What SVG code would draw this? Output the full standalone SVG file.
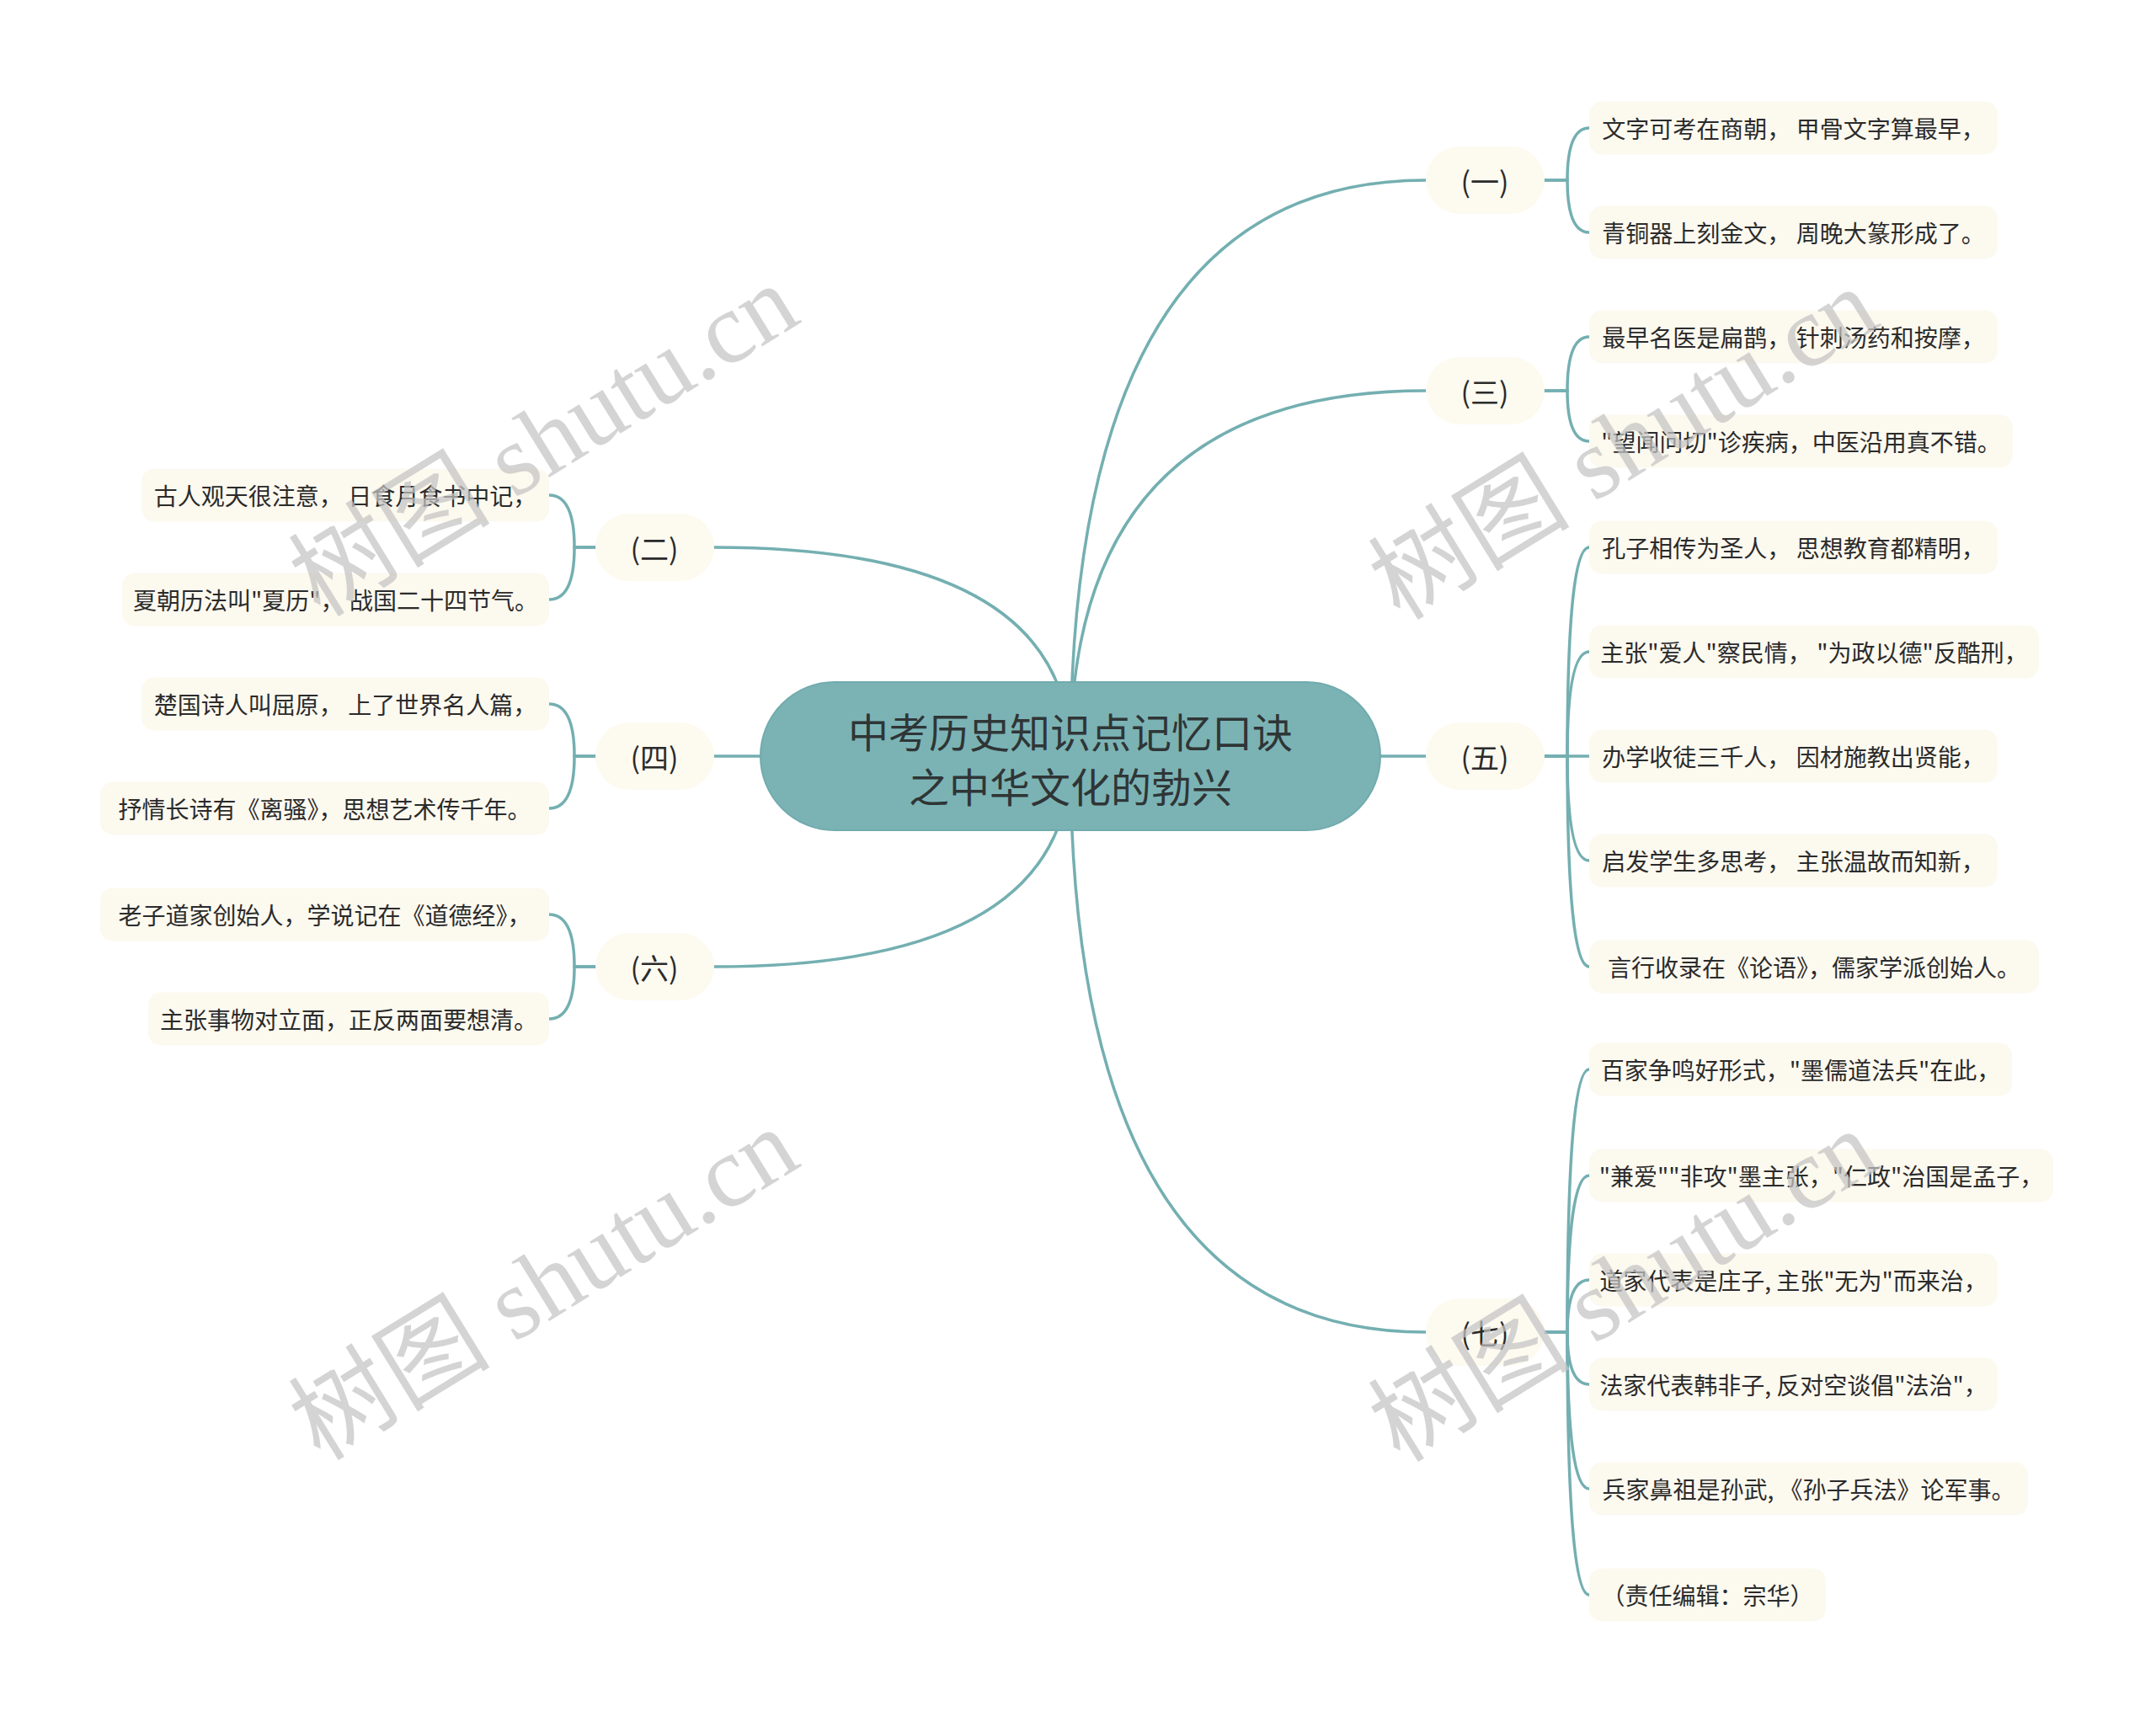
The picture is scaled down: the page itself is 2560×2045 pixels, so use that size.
<svg xmlns="http://www.w3.org/2000/svg" width="2560" height="2045" viewBox="0 0 2560 2045">
<style>
.bg{fill:#ffffff}
.conn{fill:none;stroke:#74afb1;stroke-width:3.5;stroke-linecap:round}
.root{fill:#7bb3b5;stroke:#71abad;stroke-width:2}
.roottxt{font-family:"Noto Sans CJK SC","Noto Sans",sans-serif;font-size:48px;fill:#2f3535;text-anchor:middle;dominant-baseline:central}
.l1{fill:#fdfaf0}
.l1txt{font-family:"Noto Sans CJK SC","Noto Sans",sans-serif;font-size:34px;fill:#2b2b2b;text-anchor:middle;dominant-baseline:central}
.leaf{fill:#fcf9ef}
.lt{font-family:"Noto Sans CJK SC","Noto Sans",sans-serif;font-size:28px;fill:#2b2b2b;text-anchor:middle;dominant-baseline:central;white-space:pre}
.wm{font-family:"Liberation Serif","Noto Sans CJK SC",serif;font-size:120px;fill:#c4c4c4;opacity:0.72;text-anchor:middle}
</style>
<rect class="bg" x="0" y="0" width="2560" height="2045"/>

<g id="connectors">
  <path class="conn" d="M1271 898 Q1271 214 1693 214"/>
  <path class="conn" d="M1271 898 Q1271 464 1693 464"/>
  <path class="conn" d="M1600 898 H1693"/>
  <path class="conn" d="M1271 898 Q1271 1582 1693 1582"/>
  <path class="conn" d="M1271 898 Q1271 650 848 650"/>
  <path class="conn" d="M940 898 H848"/>
  <path class="conn" d="M1271 898 Q1271 1148 848 1148"/>
  <path class="conn" d="M1834 214 H1861 Q1861 152 1887 152"/>
  <path class="conn" d="M1834 214 H1861 Q1861 276 1887 276"/>
  <path class="conn" d="M1834 464 H1861 Q1861 400 1887 400"/>
  <path class="conn" d="M1834 464 H1861 Q1861 524 1887 524"/>
  <path class="conn" d="M1834 898 H1861 Q1861 650 1887 650"/>
  <path class="conn" d="M1834 898 H1861 Q1861 774 1887 774"/>
  <path class="conn" d="M1834 898 H1887"/>
  <path class="conn" d="M1834 898 H1861 Q1861 1022 1887 1022"/>
  <path class="conn" d="M1834 898 H1861 Q1861 1148 1887 1148"/>
  <path class="conn" d="M1834 1582 H1861 Q1861 1270 1887 1270"/>
  <path class="conn" d="M1834 1582 H1861 Q1861 1396 1887 1396"/>
  <path class="conn" d="M1834 1582 H1861 Q1861 1520 1887 1520"/>
  <path class="conn" d="M1834 1582 H1861 Q1861 1644 1887 1644"/>
  <path class="conn" d="M1834 1582 H1861 Q1861 1768 1887 1768"/>
  <path class="conn" d="M1834 1582 H1861 Q1861 1894 1887 1894"/>
  <path class="conn" d="M707 650 H682 Q682 588 652 588"/>
  <path class="conn" d="M707 650 H682 Q682 712 652 712"/>
  <path class="conn" d="M707 898 H682 Q682 836 652 836"/>
  <path class="conn" d="M707 898 H682 Q682 960 652 960"/>
  <path class="conn" d="M707 1148 H682 Q682 1086 652 1086"/>
  <path class="conn" d="M707 1148 H682 Q682 1210 652 1210"/>
</g>

<g id="root">
  <rect class="root" x="903" y="810" width="736" height="176" rx="88"/>
  <text class="roottxt" x="1271" y="867">中考历史知识点记忆口诀</text>
  <text class="roottxt" x="1271" y="932">之中华文化的勃兴</text>
</g>

<g id="n1"><rect class="l1" x="1693" y="174" width="141" height="80" rx="40"/><text class="l1txt" x="1763" y="214">(一)</text></g>
<g id="n3"><rect class="l1" x="1693" y="424" width="141" height="80" rx="40"/><text class="l1txt" x="1763" y="464">(三)</text></g>
<g id="n5"><rect class="l1" x="1693" y="858" width="141" height="80" rx="40"/><text class="l1txt" x="1763" y="898">(五)</text></g>
<g id="n7"><rect class="l1" x="1693" y="1542" width="141" height="80" rx="40"/><text class="l1txt" x="1763" y="1582">(七)</text></g>
<g id="n2"><rect class="l1" x="707" y="610" width="141" height="80" rx="40"/><text class="l1txt" x="777" y="650">(二)</text></g>
<g id="n4"><rect class="l1" x="707" y="858" width="141" height="80" rx="40"/><text class="l1txt" x="777" y="898">(四)</text></g>
<g id="n6"><rect class="l1" x="707" y="1108" width="141" height="80" rx="40"/><text class="l1txt" x="777" y="1148">(六)</text></g>

<g id="n1a"><rect class="leaf" x="1887" y="120.5" width="485" height="63" rx="15"/><text class="lt" x="2129.5" y="152">文字可考在商朝， 甲骨文字算最早，</text></g>
<g id="n1b"><rect class="leaf" x="1887" y="244.5" width="485" height="63" rx="15"/><text class="lt" x="2129.5" y="276">青铜器上刻金文， 周晚大篆形成了。</text></g>
<g id="n3a"><rect class="leaf" x="1887" y="368.5" width="485" height="63" rx="15"/><text class="lt" x="2129.5" y="400">最早名医是扁鹊， 针刺汤药和按摩，</text></g>
<g id="n3b"><rect class="leaf" x="1887" y="492.5" width="503" height="63" rx="15"/><text class="lt" x="2138.5" y="524">"望闻问切"诊疾病，中医沿用真不错。</text></g>
<g id="n5a"><rect class="leaf" x="1887" y="618.5" width="485" height="63" rx="15"/><text class="lt" x="2129.5" y="650">孔子相传为圣人， 思想教育都精明，</text></g>
<g id="n5b"><rect class="leaf" x="1887" y="742.5" width="534" height="63" rx="15"/><text class="lt" x="2154" y="774">主张"爱人"察民情， "为政以德"反酷刑，</text></g>
<g id="n5c"><rect class="leaf" x="1887" y="866.5" width="485" height="63" rx="15"/><text class="lt" x="2129.5" y="898">办学收徒三千人， 因材施教出贤能，</text></g>
<g id="n5d"><rect class="leaf" x="1887" y="990.5" width="485" height="63" rx="15"/><text class="lt" x="2129.5" y="1022">启发学生多思考， 主张温故而知新，</text></g>
<g id="n5e"><rect class="leaf" x="1887" y="1116.5" width="534" height="63" rx="15"/><text class="lt" x="2154" y="1148">言行收录在《论语》，儒家学派创始人。</text></g>
<g id="n7a"><rect class="leaf" x="1887" y="1238.5" width="502" height="63" rx="15"/><text class="lt" x="2138" y="1270">百家争鸣好形式，"墨儒道法兵"在此，</text></g>
<g id="n7b"><rect class="leaf" x="1887" y="1364.5" width="551" height="63" rx="15"/><text class="lt" x="2162.5" y="1396">"兼爱""非攻"墨主张，"仁政"治国是孟子，</text></g>
<g id="n7c"><rect class="leaf" x="1887" y="1488.5" width="485" height="63" rx="15"/><text class="lt" x="2129.5" y="1520">道家代表是庄子, 主张"无为"而来治，</text></g>
<g id="n7d"><rect class="leaf" x="1887" y="1612.5" width="485" height="63" rx="15"/><text class="lt" x="2129.5" y="1644">法家代表韩非子, 反对空谈倡"法治"，</text></g>
<g id="n7e"><rect class="leaf" x="1887" y="1736.5" width="521" height="63" rx="15"/><text class="lt" x="2147.5" y="1768">兵家鼻祖是孙武, 《孙子兵法》论军事。</text></g>
<g id="n7f"><rect class="leaf" x="1887" y="1862.5" width="281" height="63" rx="15"/><text class="lt" x="2027.5" y="1894">（责任编辑：宗华）</text></g>
<g id="n2a"><rect class="leaf" x="168" y="556.5" width="484" height="63" rx="15"/><text class="lt" x="410" y="588">古人观天很注意， 日食月食书中记，</text></g>
<g id="n2b"><rect class="leaf" x="145" y="680.5" width="507" height="63" rx="15"/><text class="lt" x="398.5" y="712">夏朝历法叫"夏历"， 战国二十四节气。</text></g>
<g id="n4a"><rect class="leaf" x="168" y="804.5" width="484" height="63" rx="15"/><text class="lt" x="410" y="836">楚国诗人叫屈原， 上了世界名人篇，</text></g>
<g id="n4b"><rect class="leaf" x="119" y="928.5" width="533" height="63" rx="15"/><text class="lt" x="385.5" y="960">抒情长诗有《离骚》，思想艺术传千年。</text></g>
<g id="n6a"><rect class="leaf" x="119" y="1054.5" width="533" height="63" rx="15"/><text class="lt" x="385.5" y="1086">老子道家创始人，学说记在《道德经》，</text></g>
<g id="n6b"><rect class="leaf" x="176" y="1178.5" width="476" height="63" rx="15"/><text class="lt" x="414" y="1210">主张事物对立面，正反两面要想清。</text></g>

<g id="watermarks">
  <text class="wm" transform="translate(645 522) rotate(-31.6)" x="0" y="42">树图 shutu.cn</text>
  <text class="wm" transform="translate(1927 526) rotate(-31.6)" x="0" y="42">树图 shutu.cn</text>
  <text class="wm" transform="translate(645 1524) rotate(-31.6)" x="0" y="42">树图 shutu.cn</text>
  <text class="wm" transform="translate(1927 1526) rotate(-31.6)" x="0" y="42">树图 shutu.cn</text>
</g>
</svg>
